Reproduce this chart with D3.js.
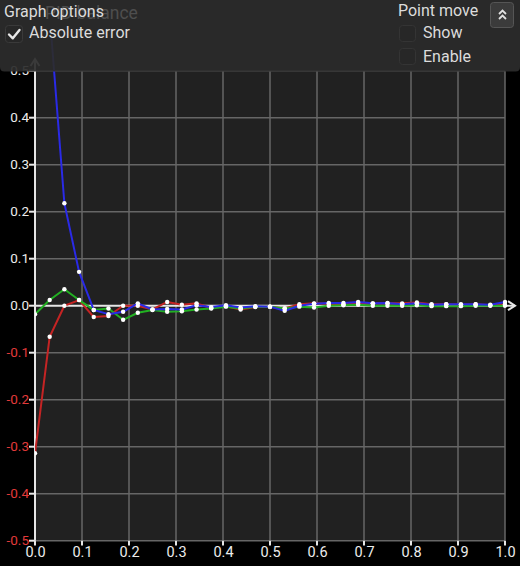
<!DOCTYPE html>
<html><head><meta charset="utf-8">
<script src="https://cdn.jsdelivr.net/npm/d3@7"></script>
<style>
html,body{margin:0;padding:0;background:#000;overflow:hidden;}
svg{display:block;font-family:Roboto,"Noto Sans",sans-serif;}
</style></head><body>
<script>
const xTicks = [0,0.1,0.2,0.3,0.4,0.5,0.6,0.7,0.8,0.9,1.0];
const yTicks = [0.5,0.4,0.3,0.2,0.1,0.0,-0.1,-0.2,-0.3,-0.4,-0.5];
const sampleCount = 33; // x = i/32
const redValues = [-0.314,-0.066,0.000,0.012,-0.024,-0.022,0.000,0.000,-0.008,0.008,0.002,0.005,-0.005,-0.001,-0.008,-0.003,-0.002,-0.006,0.003,0.005,0.004,0.003,0.006,0.005,0.005,0.005,0.007,0.003,0.003,0.002,0.003,0.001,0.003];
const greenValues = [-0.018,0.012,0.035,0.012,-0.009,-0.006,-0.030,-0.015,-0.009,-0.013,-0.012,-0.008,-0.006,-0.002,-0.006,-0.002,-0.002,-0.006,-0.002,-0.004,0.000,0.001,0.002,0.000,0.000,0.000,0.001,-0.001,-0.001,-0.001,0.000,0.000,0.000];
const blueValues = [1.2,0.62,0.218,0.072,-0.009,-0.018,-0.013,0.005,-0.008,-0.007,-0.008,0.001,-0.003,0.001,-0.004,-0.001,-0.002,-0.011,0.000,0.004,0.006,0.006,0.008,0.005,0.006,0.003,0.005,0.002,0.003,0.003,0.003,0.002,0.008];
const seriesNames = ["red","green","blue"];
const seriesColors = ["#c42424","#22b022","#2a2ae6"];

const W=520,H=566;
const x=d3.scaleLinear().domain([0,1]).range([35,505]);
const y=d3.scaleLinear().domain([-0.5,0.5]).range([540.7,70.7]);

const svg=d3.select("body").append("svg").attr("width",W).attr("height",H);
svg.append("rect").attr("width",W).attr("height",H).attr("fill","#000");
svg.append("rect").attr("x",x(0)).attr("y",y(0.5)).attr("width",x(1)-x(0)).attr("height",y(-0.5)-y(0.5)).attr("fill","#212121");

// grid
const grid=svg.append("g").attr("stroke","#666").attr("stroke-width",1.5);
xTicks.filter(t=>t>0).forEach(t=>grid.append("line").attr("x1",x(t)).attr("x2",x(t)).attr("y1",y(0.5)).attr("y2",y(-0.5)));
yTicks.filter(t=>t!==0).forEach(t=>grid.append("line").attr("x1",x(0)).attr("x2",x(1)).attr("y1",y(t)).attr("y2",y(t)));

// axes
const ax=svg.append("g").attr("stroke","#e6e6e6").attr("stroke-width",2).attr("fill","none");
ax.append("line").attr("x1",x(0)).attr("x2",515).attr("y1",y(0)).attr("y2",y(0));
ax.append("path").attr("d",`M508,${y(0)-4.5}L515,${y(0)}L508,${y(0)+4.5}`);
ax.append("line").attr("x1",x(0)).attr("x2",x(0)).attr("y1",y(-0.5)).attr("y2",60);
ax.append("path").attr("d",`M${x(0)-4.5},66L${x(0)},59L${x(0)+4.5},66`);
yTicks.forEach(t=>ax.append("line").attr("x1",29).attr("x2",x(0)).attr("y1",y(t)).attr("y2",y(t)));
xTicks.forEach(t=>ax.append("line").attr("x1",x(t)).attr("x2",x(t)).attr("y1",y(-0.5)).attr("y2",545.5));

// tick labels
svg.append("g").selectAll("text").data(yTicks).join("text")
  .attr("x",29).attr("y",d=>y(d)).attr("dy","0.35em").attr("text-anchor","end")
  .attr("font-size",13.5).attr("fill",d=>d<0?"#e23a3a":"#ececec").text(d=>d.toFixed(1));
svg.append("g").selectAll("text").data(xTicks).join("text")
  .attr("x",d=>x(d)+0.5).attr("y",557).attr("text-anchor","middle")
  .attr("font-size",14.5).attr("fill","#ececec").text(d=>d.toFixed(1));

// series
svg.append("defs").append("clipPath").attr("id","clip").append("rect").attr("x",x(0)).attr("y",36).attr("width",x(1)-x(0)+2).attr("height",y(-0.5)-36);
const all=[redValues,greenValues,blueValues];
const line=d3.line().x((d,i)=>x(i/(sampleCount-1))).y(d=>y(d));
const sg=svg.append("g").attr("clip-path","url(#clip)");
all.forEach((vals,k)=>{
  sg.append("path").datum(vals).attr("d",line).attr("fill","none").attr("stroke",seriesColors[k]).attr("stroke-width",2).attr("stroke-linejoin","round");
});
all.forEach((vals,k)=>{
  sg.append("g").selectAll("circle").data(vals).join("circle")
    .attr("cx",(d,i)=>x(i/(sampleCount-1))).attr("cy",d=>y(d)).attr("r",2.2).attr("fill","#fff");
});

// top overlay
const ov=svg.append("g");
ov.append("path").attr("d","M0,0H520V67Q520,71.5 515.5,71.5H4.5Q0,71.5 0,67Z").attr("fill","#2c2c2c").attr("opacity",0.93);
ov.append("text").attr("x",45).attr("y",19).attr("font-size",17.5).attr("fill","#4e4e4e").text("PID balance");
ov.append("text").attr("x",4).attr("y",17).attr("font-size",16).attr("fill","#dcdcdc").text("Graph options");
// checked box
ov.append("rect").attr("x",5.5).attr("y",25.5).attr("width",17).attr("height",17).attr("rx",3).attr("fill","#272727").attr("stroke","#3a3a3a");
ov.append("path").attr("d","M9,34.5L12.8,38.3L19.5,30").attr("fill","none").attr("stroke","#e8e8e8").attr("stroke-width",2.4).attr("stroke-linecap","round").attr("stroke-linejoin","round");
ov.append("text").attr("x",29).attr("y",38).attr("font-size",16).attr("fill","#dcdcdc").text("Absolute error");
// right panel
ov.append("text").attr("x",398).attr("y",16).attr("font-size",16).attr("fill","#dcdcdc").text("Point move");
ov.append("rect").attr("x",399.5).attr("y",25.5).attr("width",16).attr("height",16).attr("rx",3).attr("fill","#272727").attr("stroke","#343434");
ov.append("text").attr("x",423).attr("y",38).attr("font-size",16).attr("fill","#dcdcdc").text("Show");
ov.append("rect").attr("x",399.5).attr("y",48.5).attr("width",16).attr("height",16).attr("rx",3).attr("fill","#272727").attr("stroke","#343434");
ov.append("text").attr("x",423).attr("y",61.5).attr("font-size",16).attr("fill","#dcdcdc").text("Enable");
ov.append("rect").attr("x",490.5).attr("y",2.5).attr("width",23).attr("height",25).attr("rx",3).attr("fill","#3b3b3b").attr("stroke","#555");
ov.append("path").attr("d","M499,14L502.5,10.5L506,14M499,19L502.5,15.5L506,19").attr("fill","none").attr("stroke","#e0e0e0").attr("stroke-width",1.8);
</script>
</body></html>
